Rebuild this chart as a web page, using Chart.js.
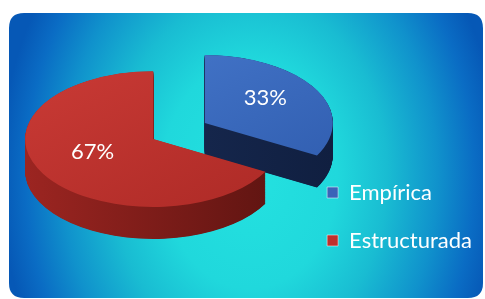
<!DOCTYPE html>
<html>
<head>
<meta charset="utf-8">
<script src="https://cdn.jsdelivr.net/npm/chart.js@4.4.1/dist/chart.umd.min.js"></script>
<style>
  html, body { margin: 0; padding: 0; background: #ffffff; }
  #wrap { width: 485px; height: 299px; position: relative; }
</style>
</head>
<body>
<div id="wrap"><canvas id="c" width="485" height="299"></canvas></div>
<script>
// ---- data ----
const categories = ['Empírica', 'Estructurada'];
const values = [33, 67];
const valueLabels = ['33%', '67%'];

// ---- styles ----
const topColors = ['#3a6cc2', '#bf322d'];
const sideColorsA = ['#1a2d57', '#9c2521'];
const sideColorsB = ['#101f40', '#5e1411'];
const legendColors = ['#3a64b8', '#c0302c'];

const PIE_X = 179, PIE_Y = 131;   // screen centre of the un-exploded pie
const TILT = 0.53;                // vertical squash of the pie
const DEPTH = 32;                 // side thickness in screen px
const EXPLODE = 30;               // explosion distance (pie units)
const FONT = 'Lato, "Open Sans", sans-serif';

const bgPlugin = {
  id: 'bg',
  beforeDraw(chart) {
    const ctx = chart.ctx;
    ctx.save();
    ctx.fillStyle = '#ffffff';
    ctx.fillRect(0, 0, chart.width, chart.height);
    const x0 = 9, y0 = 13, x1 = 483, y1 = 298, r = 15;
    ctx.beginPath();
    ctx.moveTo(x0 + r, y0);
    ctx.lineTo(x1 - r, y0);
    ctx.quadraticCurveTo(x1, y0, x1, y0 + r);
    ctx.lineTo(x1, y1 - r);
    ctx.quadraticCurveTo(x1, y1, x1 - r, y1);
    ctx.lineTo(x0 + r, y1);
    ctx.quadraticCurveTo(x0, y1, x0, y1 - r);
    ctx.lineTo(x0, y0 + r);
    ctx.quadraticCurveTo(x0, y0, x0 + r, y0);
    ctx.closePath();
    ctx.clip();
    ctx.translate(250, 175);
    ctx.scale(1, 1.3);
    const g = ctx.createRadialGradient(0, 0, 0, 0, 0, 250);
    g.addColorStop(0, '#24e2e0');
    g.addColorStop(0.35, '#20d8dc');
    g.addColorStop(0.55, '#19bcd2');
    g.addColorStop(0.75, '#1092cc');
    g.addColorStop(0.9, '#0a6cc4');
    g.addColorStop(1, '#0658b6');
    ctx.fillStyle = g;
    ctx.fillRect(-400, -400, 800, 800);
    ctx.restore();
  }
};

function wedgePath(ctx, arc, cx, cy) {
  ctx.beginPath();
  ctx.moveTo(cx, cy);
  ctx.arc(cx, cy, arc.outerRadius, arc.startAngle, arc.endAngle);
  ctx.closePath();
}

const pie3dPlugin = {
  id: 'pie3d',
  beforeDatasetsDraw(chart) {
    const ctx = chart.ctx;
    const meta = chart.getDatasetMeta(0);
    const first = meta.data[0];
    const cx = first.x, cy = first.y;
    const depthU = DEPTH / TILT;
    meta.data.forEach((arc, i) => {
      const mid = (arc.startAngle + arc.endAngle) / 2;
      const ox = Math.cos(mid) * EXPLODE, oy = Math.sin(mid) * EXPLODE;
      ctx.save();
      ctx.translate(PIE_X, PIE_Y);
      ctx.scale(1, TILT);
      ctx.translate(-cx + ox, -cy + oy);
      const sg = ctx.createLinearGradient(cx - arc.outerRadius, 0, cx + arc.outerRadius, 0);
      sg.addColorStop(0, sideColorsA[i]);
      sg.addColorStop(1, sideColorsB[i]);
      ctx.fillStyle = sg;
      for (let d = depthU; d > 0; d -= 0.8) {
        wedgePath(ctx, arc, cx, cy + d);
        ctx.fill();
      }
      const tg = ctx.createLinearGradient(cx - arc.outerRadius, cy - arc.outerRadius, cx + arc.outerRadius, cy + arc.outerRadius);
      tg.addColorStop(0, i === 0 ? '#4678cc' : '#c93a35');
      tg.addColorStop(1, i === 0 ? '#2f5cae' : '#ad2a26');
      arc.options.backgroundColor = tg;
      arc.draw(ctx);
      ctx.restore();
    });
    ctx.save();
    ctx.fillStyle = '#ffffff';
    ctx.font = '22px ' + FONT;
    ctx.textAlign = 'center';
    ctx.textBaseline = 'middle';
    meta.data.forEach((arc, i) => {
      const mid = (arc.startAngle + arc.endAngle) / 2;
      const rr = arc.outerRadius * 0.55 + EXPLODE;
      const px = PIE_X + Math.cos(mid) * rr;
      const py = PIE_Y + Math.sin(mid) * rr * TILT - 6;
      ctx.fillText(valueLabels[i], px, py);
    });
    ctx.restore();
    return false;
  }
};

new Chart(document.getElementById('c'), {
  type: 'pie',
  data: {
    labels: categories,
    datasets: [{
      data: values,
      backgroundColor: topColors,
      borderWidth: 0,
      radius: 128,
      offset: 0,
      clip: false
    }]
  },
  options: {
    responsive: false,
    animation: false,
    events: [],
    layout: { padding: { top: 134, right: 3, bottom: 0, left: 0 } },
    plugins: {
      tooltip: { enabled: false },
      legend: {
        position: 'right',
        align: 'center',
        labels: {
          color: '#ffffff',
          font: { family: FONT, size: 22 },
          boxWidth: 11,
          boxHeight: 11,
          padding: 26,
          generateLabels(chart) {
            return categories.map((t, i) => ({
              text: t,
              fillStyle: legendColors[i],
              strokeStyle: 'rgba(255,255,255,0.5)',
              lineWidth: 1,
              fontColor: '#ffffff',
              index: i,
              hidden: false
            }));
          }
        }
      }
    }
  },
  plugins: [bgPlugin, pie3dPlugin]
});
</script>
</body>
</html>
